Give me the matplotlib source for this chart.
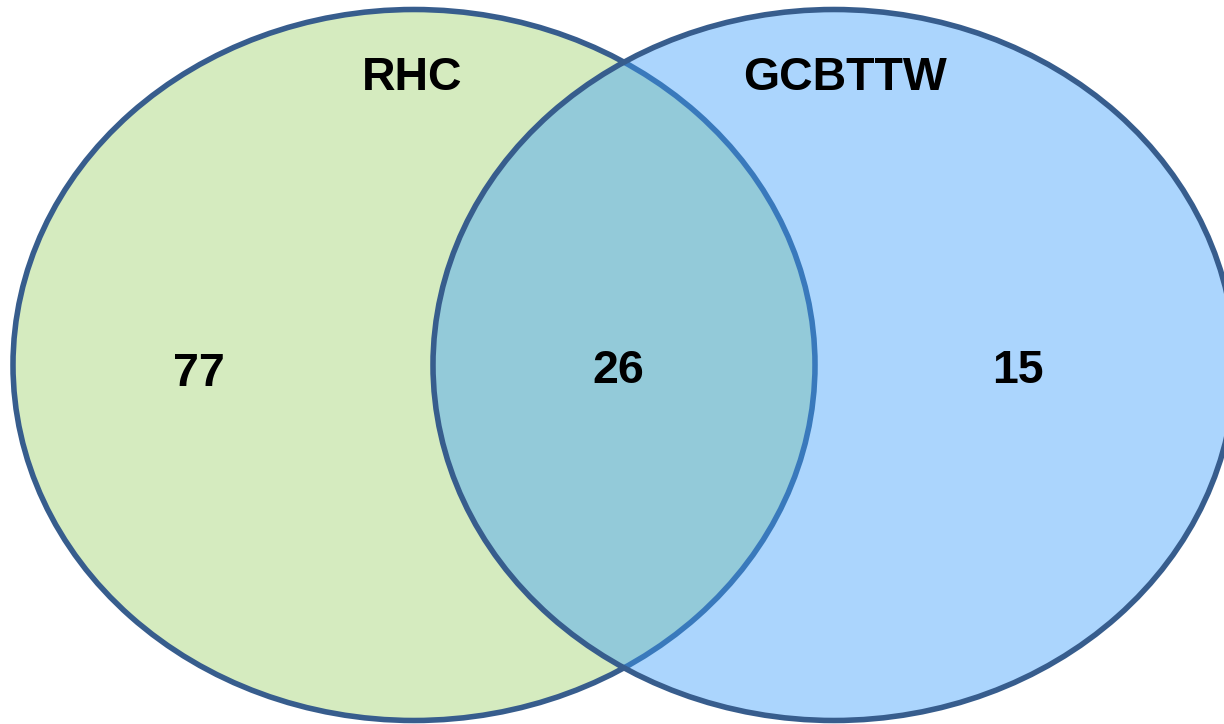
import matplotlib
matplotlib.use("Agg")
import matplotlib.pyplot as plt
from matplotlib.patches import Ellipse

# Data
set_names = ["RHC", "GCBTTW"]
only_left = 77
both = 26
only_right = 15
region_counts = [only_left, both, only_right]

W, H = 1224, 724
fig = plt.figure(figsize=(W / 100, H / 100), dpi=100)
ax = fig.add_axes([0, 0, 1, 1])
ax.set_xlim(0, W)
ax.set_ylim(H, 0)
ax.set_aspect("auto")
ax.axis("off")

edge = "#375d8d"
green = "#d5ebbf"
blue_rgba = (61 / 255, 159 / 255, 252 / 255, 0.43)

left_c = (414, 365)
right_c = (834, 365)
ew, eh = 802, 711

left = Ellipse(left_c, ew, eh, facecolor=green, edgecolor=edge, linewidth=4, zorder=1)
ax.add_patch(left)
right_face = Ellipse(right_c, ew, eh, facecolor=blue_rgba, edgecolor="none", zorder=2)
ax.add_patch(right_face)
right_edge = Ellipse(right_c, ew, eh, facecolor="none", edgecolor=edge, linewidth=4, zorder=3)
ax.add_patch(right_edge)

font = dict(family=["Liberation Sans", "DejaVu Sans"], fontweight="bold", fontsize=33.5,
            color="black", ha="center", va="center", zorder=5)
ax.text(412, 78, set_names[0], **font)
ax.text(845, 78, set_names[1], **font)

pos = [(199, 374), (618, 371), (1018, 371)]
for (x, y), v in zip(pos, region_counts):
    ax.text(x, y, str(v), **font)

fig.savefig("out.png", dpi=100)
